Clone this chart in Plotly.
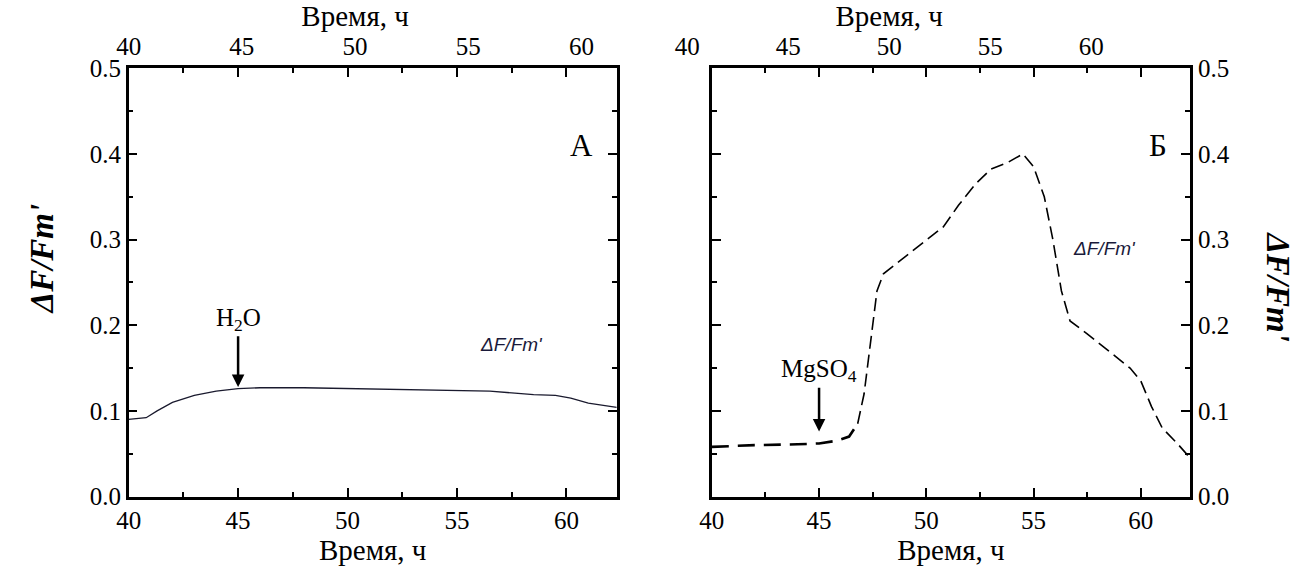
import plotly.graph_objects as go

# Control sample (H2O): time, h and ΔF/Fm'
time_a = [40.0, 40.8, 41.3, 42.0, 43.0, 44.0, 45.0, 46.0, 48.0, 50.0, 52.0, 54.0,
          55.5, 56.5, 57.5, 58.5, 59.5, 60.2, 61.0, 62.3]
yield_a = [0.090, 0.092, 0.100, 0.110, 0.118, 0.123, 0.126, 0.127, 0.127, 0.126,
           0.125, 0.124, 0.124, 0.123, 0.121, 0.119, 0.118, 0.115, 0.109, 0.104]

# MgSO4 treatment: time, h and ΔF/Fm'
time_b = [40.0, 42.0, 44.0, 45.0, 45.8, 46.4, 46.8, 47.1, 47.4, 47.7, 48.0, 49.0,
          50.0, 50.8, 51.5, 52.3, 53.0, 53.8, 54.5, 55.0, 55.5, 55.9, 56.3, 56.7,
          57.5, 58.5, 59.5, 60.0, 60.5, 61.0, 61.7, 62.3]
yield_b = [0.058, 0.060, 0.061, 0.062, 0.065, 0.070, 0.085, 0.120, 0.180, 0.240,
           0.260, 0.280, 0.300, 0.315, 0.340, 0.365, 0.382, 0.390, 0.400, 0.385,
           0.350, 0.300, 0.240, 0.205, 0.190, 0.170, 0.150, 0.135, 0.105, 0.080,
           0.062, 0.045]

x_ticks = [40, 45, 50, 55, 60]
y_ticks = [0.0, 0.1, 0.2, 0.3, 0.4, 0.5]
y_tick_text = ["0.0", "0.1", "0.2", "0.3", "0.4", "0.5"]
x_range = [40, 62.3]
top_range = [40, 60]
y_range = [0, 0.5]

SERIF = "Liberation Serif"
SANS = "Liberation Sans"
W, H = 1308, 574
CLEAR = "rgba(0,0,0,0)"

# baseline stays thick until the rise starts, then a thinner dash
split = 7

fig = go.Figure()
fig.add_trace(go.Scatter(x=time_a, y=yield_a, mode="lines", xaxis="x", yaxis="y",
                         line=dict(color="#1a1a2e", width=1.3), showlegend=False))
fig.add_trace(go.Scatter(x=time_b[:split], y=yield_b[:split], mode="lines",
                         xaxis="x2", yaxis="y2",
                         line=dict(color="black", width=2.6, dash="17px,9px"),
                         showlegend=False))
fig.add_trace(go.Scatter(x=time_b[split - 1:], y=yield_b[split - 1:], mode="lines",
                         xaxis="x2", yaxis="y2",
                         line=dict(color="black", width=1.6, dash="13px,6px"),
                         showlegend=False))
# invisible traces so the top time axes are drawn
fig.add_trace(go.Scatter(x=x_ticks, y=[0.2] * 5, mode="lines", xaxis="x3", yaxis="y",
                         line=dict(width=0), opacity=0, showlegend=False, hoverinfo="skip"))
fig.add_trace(go.Scatter(x=x_ticks, y=[0.2] * 5, mode="lines", xaxis="x4", yaxis="y2",
                         line=dict(width=0), opacity=0, showlegend=False, hoverinfo="skip"))

tick_font = dict(family=SERIF, size=25, color="black")
title_font = dict(family=SERIF, size=29, color="black")


def px(a, b):
    return [a / W, b / W]


def bottom_axis(domain, anchor):
    return dict(domain=domain, range=x_range, side="bottom", anchor=anchor,
                tickvals=x_ticks, ticks="inside", ticklen=9, tickwidth=2,
                tickcolor="black", showline=True, linecolor="black", linewidth=2.5,
                mirror="ticks", showgrid=False, zeroline=False, tickfont=tick_font,
                minor=dict(dtick=2.5, tick0=40, ticks="inside", ticklen=5,
                           tickwidth=2, tickcolor="black"),
                title=dict(text="Время, ч", font=title_font, standoff=2))


def top_axis(domain, anchor):
    return dict(domain=domain, range=top_range, side="top", anchor=anchor,
                tickvals=x_ticks, ticks="", showline=False, showgrid=False,
                zeroline=False, tickfont=tick_font, ticklabelstandoff=7,
                title=dict(text="Время, ч", font=title_font, standoff=2))


def y_axis(domain, side, anchor):
    return dict(domain=domain, range=y_range, side=side, anchor=anchor,
                tickvals=y_ticks, ticktext=y_tick_text, ticks="inside",
                ticklen=9, tickwidth=2, tickcolor="black", showline=True,
                linecolor="black", linewidth=2.5, mirror="ticks",
                showgrid=False, zeroline=False, tickfont=tick_font,
                minor=dict(dtick=0.05, ticks="inside", ticklen=5, tickwidth=2,
                           tickcolor="black"))


dom_y = [0.116, 0.899]

fig.update_layout(
    width=W, height=H,
    margin=dict(l=0, r=0, t=0, b=0),
    paper_bgcolor="white", plot_bgcolor=CLEAR,
    font=dict(family=SERIF, color="black"),
    xaxis=bottom_axis(px(118, 616), "y"),
    xaxis2=bottom_axis(px(713, 1201), "y2"),
    xaxis3=top_axis(px(118, 580), "y"),
    xaxis4=top_axis(px(688, 1100), "y2"),
    yaxis=y_axis(dom_y, "left", "x"),
    yaxis2=y_axis(dom_y, "right", "x2"),
)

ylabel = "<b><i>ΔF/Fm'</i></b>"
annotations = [
    dict(text=ylabel, xref="paper", yref="paper", x=30 / W, y=0.55, textangle=-90,
         xanchor="center", yanchor="middle", showarrow=False,
         font=dict(family=SERIF, size=33, color="black")),
    dict(text=ylabel, xref="paper", yref="paper", x=1291 / W, y=0.5, textangle=90,
         xanchor="center", yanchor="middle", showarrow=False,
         font=dict(family=SERIF, size=33, color="black")),
    dict(text="А", xref="x", yref="y", x=60.7, y=0.41, showarrow=False,
         font=dict(family=SERIF, size=31, color="black")),
    dict(text="Б", xref="x2", yref="y2", x=60.8, y=0.41, showarrow=False,
         font=dict(family=SERIF, size=31, color="black")),
    dict(text="<i>ΔF/Fm'</i>", xref="x", yref="y", x=57.5, y=0.178, showarrow=False,
         font=dict(family=SANS, size=19, color="#1a1a3a")),
    dict(text="<i>ΔF/Fm'</i>", xref="x2", yref="y2", x=58.3, y=0.29, showarrow=False,
         font=dict(family=SANS, size=19, color="#1a1a3a")),
    # treatment labels with arrows pointing at the time of addition
    dict(text="H<sub>2</sub>O", xref="x", yref="y", x=45.0, y=0.128,
         ax=45.0, ay=0.207, axref="x", ayref="y", showarrow=True,
         arrowhead=2, arrowsize=1, arrowwidth=2.5, arrowcolor="black",
         font=dict(family=SERIF, size=25, color="black")),
    dict(text="MgSO<sub>4</sub>", xref="x2", yref="y2", x=45.0, y=0.076,
         ax=45.0, ay=0.147, axref="x2", ayref="y2", showarrow=True,
         arrowhead=2, arrowsize=1, arrowwidth=2.5, arrowcolor="black",
         font=dict(family=SERIF, size=25, color="black")),
]
fig.update_layout(annotations=annotations)

fig.write_html("out.html")
